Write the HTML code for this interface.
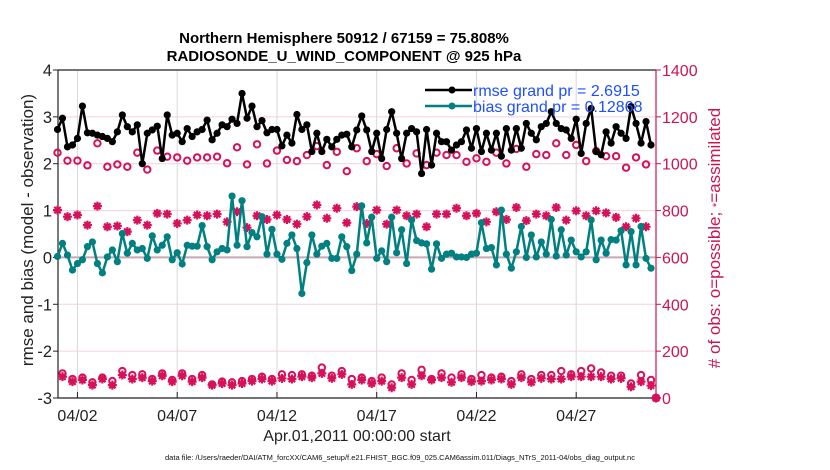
<!DOCTYPE html>
<html><head><meta charset="utf-8"><style>
body{margin:0;background:#fff;}
svg{display:block;font-family:"Liberation Sans",Arial,sans-serif;}
</style></head><body>
<svg id="chart" width="830" height="470" viewBox="0 0 830 470">
<g id="grid"></g>
<g id="axes"></g>
<g id="marks"></g>
<text x="344" y="43" text-anchor="middle" font-weight="bold" font-size="15">Northern Hemisphere 50912 / 67159 = 75.808%</text>
<text x="344" y="61" text-anchor="middle" font-weight="bold" font-size="15">RADIOSONDE_U_WIND_COMPONENT @ 925 hPa</text>
<text x="357" y="441" text-anchor="middle" font-size="16" fill="#222">Apr.01,2011 00:00:00 start</text>
<text transform="translate(33,230) rotate(-90)" text-anchor="middle" font-size="17" fill="#222">rmse and bias (model - observation)</text>
<text transform="translate(720,238) rotate(-90)" text-anchor="middle" font-size="17" fill="#cc1455"># of obs: o=possible; <tspan font-size="11">*</tspan>=assimilated</text>
<text x="400" y="460" text-anchor="middle" font-size="7.5" fill="#111">data file: /Users/raeder/DAI/ATM_forcXX/CAM6_setup/f.e21.FHIST_BGC.f09_025.CAM6assim.011/Diags_NTrS_2011-04/obs_diag_output.nc</text>
<g>
<line x1="425" y1="90" x2="472" y2="90" stroke="#000" stroke-width="2.5"/>
<circle cx="452" cy="90" r="3.5" fill="#000"/>
<text x="473" y="96" font-size="16" fill="#1f4fff">rmse grand pr = 2.6915</text>
<line x1="425" y1="106" x2="472" y2="106" stroke="#008080" stroke-width="2.5"/>
<circle cx="452" cy="106" r="3.5" fill="#008080"/>
<text x="473" y="112" font-size="16" fill="#1f4fff">bias grand pr = 0.12868</text>
</g>
</svg>
<script>
const rmse=[2.73,2.97,2.36,2.40,2.54,3.23,2.66,2.65,2.61,2.58,2.54,2.47,2.68,3.04,2.79,2.68,2.83,2.00,2.65,2.72,2.80,2.11,3.04,2.61,2.65,2.47,2.75,2.58,2.68,2.73,2.93,2.51,2.65,2.83,2.79,2.95,2.86,3.50,2.97,3.23,2.79,
2.92,2.66,2.73,2.73,2.38,2.61,2.44,3.05,2.73,2.83,2.26,2.65,2.26,2.52,2.36,2.52,2.61,2.63,2.36,2.72,3.02,2.72,2.26,2.65,2.11,2.73,3.11,2.65,2.11,2.65,2.75,2.68,1.79,2.73,1.97,2.65,2.47,2.47,2.29,2.40,
2.47,2.72,2.33,2.75,2.26,2.65,2.29,2.65,2.16,2.75,2.29,2.75,2.33,2.86,2.65,2.51,2.79,2.86,3.11,2.86,2.75,2.72,2.54,2.95,2.22,2.86,3.18,2.26,2.19,2.68,2.44,2.79,2.65,2.54,3.22,2.86,2.44,2.90,2.40];
const bias=[0.02,0.30,0.05,-0.27,-0.13,-0.05,0.23,0.33,-0.13,-0.33,0.01,0.16,-0.09,0.51,0.09,0.30,0.16,0.19,-0.02,0.46,0.16,0.26,0.44,-0.05,0.10,-0.14,0.26,0.24,0.24,0.68,0.23,-0.05,0.12,0.19,0.16,1.31,0.26,1.21,0.23,0.53,0.44,
0.87,0.07,0.60,0.07,-0.04,0.30,0.48,0.19,-0.77,-0.11,0.48,0.07,0.24,0.30,-0.02,-0.02,0.44,0.23,-0.28,0.07,1.10,0.31,0.86,-0.02,0.14,-0.09,0.86,0.10,0.59,-0.13,0.80,0.36,0.31,0.29,-0.25,0.29,-0.02,0.07,0.09,0.01,
0.01,0.00,0.07,0.09,0.74,0.19,0.21,-0.16,1.01,0.07,-0.23,0.12,0.66,0.00,0.48,0.01,0.33,0.07,0.81,0.03,0.59,0.05,0.37,0.12,0.01,0.12,0.80,-0.05,0.37,0.09,0.38,0.37,0.57,-0.16,0.55,-0.16,0.66,-0.02,-0.23];
const possible=[1047,105,1013,81,1013,87,993,67,1087,87,987,72,997,115,987,98,1047,101,975,81,1056,105,1030,77,1027,105,1013,81,1027,98,1027,58,1030,70,1002,67,1070,72,997,81,1083,91,
1001,81,1056,101,1016,98,1011,101,1037,95,1075,130,994,95,1051,115,968,81,1066,87,1011,72,1041,87,990,58,1066,105,1001,77,1044,120,994,81,1047,105,1037,87,1037,101,
1008,81,1023,98,1008,87,1047,91,1001,72,1063,101,987,81,1041,98,1037,98,1087,115,1037,101,1080,115,1011,126,1054,109,1032,95,1032,95,983,62,1027,98,997,77,0];
const used=[802,91,774,70,781,77,738,55,819,81,731,55,734,98,710,81,759,87,738,72,788,95,785,70,745,95,759,70,781,87,778,55,785,62,752,55,795,62,727,72,778,81,
762,72,781,84,762,81,742,91,774,87,824,105,767,84,810,101,748,58,817,77,745,62,802,72,742,44,802,87,778,58,785,95,731,77,785,87,785,67,810,87,
778,70,788,72,752,77,795,81,762,58,813,87,757,67,785,84,778,81,813,81,759,91,799,91,778,91,799,91,790,81,771,84,731,48,767,70,731,53,0];
const xTickLabels=["04/02","04/07","04/12","04/17","04/22","04/27"];
const xTickDays=[1,6,11,16,21,26];
const yLeftTicks=[-3,-2,-1,0,1,2,3,4];
const yRightTicks=[0,200,400,600,800,1000,1200,1400];
const stepDays=0.25;

const NS="http://www.w3.org/2000/svg";
const L=58,R=656,T=70,B=398;
const xs=t=>57.5+19.95*t;
const yl=v=>B-(v+3)/7*(B-T);
const yr=v=>B-v/1400*(B-T);
function mk(tag,attrs,parent){const e=document.createElementNS(NS,tag);for(const k in attrs)e.setAttribute(k,attrs[k]);parent.appendChild(e);return e;}
const grid=document.getElementById('grid'),axes=document.getElementById('axes'),marks=document.getElementById('marks');
xTickDays.forEach((d,i)=>{
 const g=mk('line',{x1:xs(d),x2:xs(d),y1:T,y2:B,stroke:'#d8d8d8','stroke-width':1},grid);
 
 
 const tk=mk('line',{x1:xs(d),x2:xs(d),y1:B,y2:B-6,stroke:'#222','stroke-width':1},axes);
 
 
 const t=mk('text',{x:xs(d),y:421,'text-anchor':'middle','font-size':16,fill:'#222'},axes);
 t.textContent=xTickLabels[i];
 
 
});
yRightTicks.forEach(v=>{
 const g=mk('line',{x1:L,x2:R,y1:yr(v),y2:yr(v),stroke:'#f3d0dc','stroke-width':1},grid);
 
 
 const tk=mk('line',{x1:R,x2:R+5,y1:yr(v),y2:yr(v),stroke:'#cc1455','stroke-width':1},axes);
 
 
 const t=mk('text',{x:R+6,y:yr(v)+6,'font-size':16,fill:'#cc1455'},axes);
 t.textContent=v;
 
 
});
yLeftTicks.forEach(v=>{
 const tk=mk('line',{x1:L,x2:L-5,y1:yl(v),y2:yl(v),stroke:'#222','stroke-width':1},axes);
 
 
 const t=mk('text',{x:L-6,y:yl(v)+6,'font-size':16.5,fill:'#222','text-anchor':'end'},axes);
 t.textContent=v;
 
 
});
const zl=mk('line',{x1:L,x2:R,y1:yl(0),y2:yl(0),stroke:'#c8a8b0','stroke-width':2},grid);


const ax1=mk('path',{d:`M${L},${T}V${B}H${R}`,fill:'none',stroke:'#222','stroke-width':1.2},axes);


const ax2=mk('line',{x1:L,x2:R,y1:T,y2:T,stroke:'#222','stroke-width':1.2},axes);


const ax3=mk('line',{x1:R,x2:R,y1:T,y2:B,stroke:'#cc1455','stroke-width':1.2},axes);



possible.forEach((v,i)=>{
 const c=mk('circle',{cx:xs(i*stepDays),cy:yr(v),r:3.2,fill:'none',stroke:'#d6105a','stroke-width':2},marks);
 
 
});
used.forEach((v,i)=>{
 const x=xs(i*stepDays),y=yr(v),s=4.5,d=3.2;
 const p=mk('path',{d:`M${x-s},${y}H${x+s}M${x},${y-s}V${y+s}M${x-d},${y-d}L${x+d},${y+d}M${x-d},${y+d}L${x+d},${y-d}`,stroke:'#d6105a','stroke-width':2.2,fill:'none'},marks);
 
 
});
function series(arr,color,name){
 const d=arr.map((v,i)=>(i?'L':'M')+xs(i*stepDays).toFixed(1)+','+yl(v).toFixed(1)).join('');
 const p=mk('path',{d:d,fill:'none',stroke:color,'stroke-width':2.5,'stroke-linejoin':'round'},marks);
 
 
 arr.forEach((v,i)=>{
  const c=mk('circle',{cx:xs(i*stepDays),cy:yl(v),r:3.6,fill:color},marks);
  
  
 });
}
series(bias,'#008080','bias');
series(rmse,'#000000','rmse');
</script>
</body></html>
